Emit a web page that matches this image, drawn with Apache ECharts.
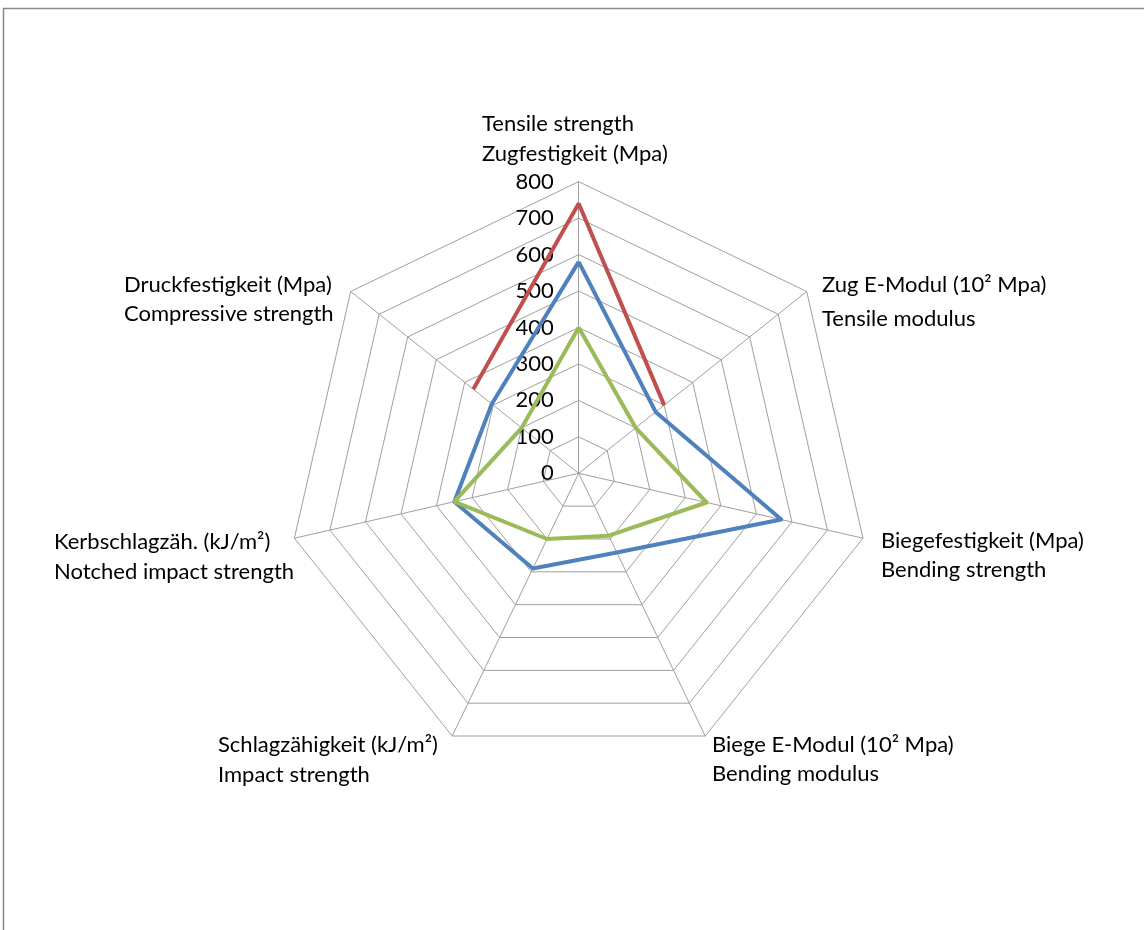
<!DOCTYPE html>
<html>
<head>
<meta charset="utf-8">
<script src="https://cdn.jsdelivr.net/npm/echarts@6/dist/echarts.min.js"></script>
<style>
  html, body { margin: 0; padding: 0; background: #fff; }
  #chart { width: 1144px; height: 930px; }
</style>
</head>
<body>
<div id="chart"></div>
<script>
// ---- Data (clockwise from top) ----
const categoriesDE = [
  'Zugfestigkeit (Mpa)',
  'Zug E-Modul (10\u00B2 Mpa)',
  'Biegefestigkeit (Mpa)',
  'Biege E-Modul (10\u00B2 Mpa)',
  'Schlagz\u00E4higkeit (kJ/m\u00B2)',
  'Kerbschlagz\u00E4h. (kJ/m\u00B2)',
  'Druckfestigkeit (Mpa)'
];
const categoriesEN = [
  'Tensile strength',
  'Tensile modulus',
  'Bending strength',
  'Bending modulus',
  'Impact strength',
  'Notched impact strength',
  'Compressive strength'
];
const axisMax = 800;
const tickStep = 100;
const seriesBlue  = [580, 270, 570, 241, 290, 350, 305];
const seriesRed   = [740, 300, null, null, null, null, 370];
const seriesGreen = [400, 200, 360, 190, 200, 350, 200];

// ---- Layout (positions / styles only) ----
const CX = 578.7, CY = 473.3, R = 291.6;
const FONT = 'Lato';
const FS = 22;
const labelLayout = [
  { x: 482, y1: 124, y2: 154, enFirst: true },
  { x: 822, y1: 285, y2: 319, enFirst: false },
  { x: 881, y1: 541, y2: 570, enFirst: false },
  { x: 712, y1: 745, y2: 774, enFirst: false },
  { x: 218, y1: 745, y2: 775, enFirst: false },
  { x: 54,  y1: 542, y2: 572, enFirst: false },
  { x: 124, y1: 285, y2: 314, enFirst: false }
];

const n = categoriesDE.length;
// ECharts radar places indicators counter-clockwise; reorder so the picture runs clockwise
const ccwOrder = [0];
for (let i = n - 1; i >= 1; i--) ccwOrder.push(i);

const indicators = ccwOrder.map((i, k) => {
  const ind = { name: categoriesDE[i], min: 0, max: axisMax };
  if (k === 0) {
    ind.axisLabel = { show: true, margin: 25, color: '#000', fontFamily: FONT, fontSize: FS, showMinLabel: true };
  }
  return ind;
});

// red series: open polyline through the non-missing values
function openPath(vals) {
  let start = -1;
  for (let i = 0; i < vals.length; i++) {
    if (vals[i] != null && vals[(i - 1 + vals.length) % vals.length] == null) { start = i; break; }
  }
  const out = [];
  for (let k = 0; k < vals.length; k++) {
    const i = (start + k) % vals.length;
    if (vals[i] == null) break;
    out.push([vals[i], i]);
  }
  return out;
}

const gridColor = '#a0a0a0';

const graphics = [
  { type: 'rect', shape: { x: 3.5, y: 8.5, width: 1200, height: 1000 },
    style: { fill: 'none', stroke: '#868686', lineWidth: 1.5 }, silent: true }
];
labelLayout.forEach((L, i) => {
  const first = L.enFirst ? categoriesEN[i] : categoriesDE[i];
  const second = L.enFirst ? categoriesDE[i] : categoriesEN[i];
  graphics.push({ type: 'text', x: L.x, y: L.y1,
    style: { text: first, fill: '#000', font: FS + 'px ' + FONT, textAlign: 'left', textVerticalAlign: 'middle' } });
  graphics.push({ type: 'text', x: L.x, y: L.y2,
    style: { text: second, fill: '#000', font: FS + 'px ' + FONT, textAlign: 'left', textVerticalAlign: 'middle' } });
});

const chart = echarts.init(document.getElementById('chart'), null, { renderer: 'canvas' });
chart.setOption({
  backgroundColor: '#fff',
  animation: false,
  radar: {
    center: [CX, CY],
    radius: R,
    startAngle: 90,
    shape: 'polygon',
    splitNumber: axisMax / tickStep,
    indicator: indicators,
    axisName: { show: false },
    axisLine: { show: true, lineStyle: { color: gridColor, width: 1 } },
    splitLine: { show: true, lineStyle: { color: gridColor, width: 1 } },
    splitArea: { show: false },
    axisTick: { show: false },
    axisLabel: { show: false }
  },
  polar: { center: [CX, CY], radius: R },
  angleAxis: { type: 'value', min: 0, max: n, startAngle: 90, clockwise: true, show: false },
  radiusAxis: { type: 'value', min: 0, max: axisMax, show: false },
  graphic: graphics,
  series: [
    {
      type: 'radar',
      symbol: 'none',
      lineStyle: { color: '#4F81BD', width: 4 },
      data: [{ value: ccwOrder.map(i => seriesBlue[i]), name: 'blue' }]
    },
    {
      type: 'line',
      coordinateSystem: 'polar',
      symbol: 'none',
      lineStyle: { color: '#C0504D', width: 4 },
      data: openPath(seriesRed)
    },
    {
      type: 'radar',
      symbol: 'none',
      lineStyle: { color: '#9BBB59', width: 4 },
      data: [{ value: ccwOrder.map(i => seriesGreen[i]), name: 'green' }]
    }
  ]
});
</script>
</body>
</html>
